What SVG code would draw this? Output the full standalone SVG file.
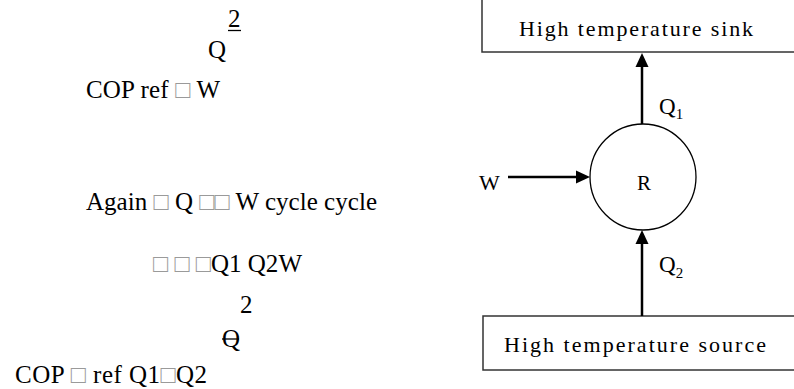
<svg xmlns="http://www.w3.org/2000/svg" width="794" height="389" viewBox="0 0 794 389">
<style>
.t{font-family:"Liberation Serif","Times New Roman",serif;fill:#000}
.eq{font-size:25px}
.sq{fill:#9a9a9a}
.box{fill:#fff;stroke:#333;stroke-width:1.5}
.lbl{font-size:22px}
.conn{stroke:#000;stroke-width:2.5;fill:none}
</style>
<rect width="794" height="389" fill="#fff"/>

<g id="equations">
<text class="t eq" x="228" y="27">2</text>
<line x1="228" y1="30.5" x2="241" y2="30.5" stroke="#000" stroke-width="1.3"/>
<text class="t eq" x="208" y="58">Q</text>
<text class="t eq" x="86" y="98" textLength="134" lengthAdjust="spacing">COP ref <tspan class="sq">□</tspan> W</text>
<text class="t eq" x="86" y="210" textLength="291" lengthAdjust="spacing">Again <tspan class="sq">□</tspan> Q <tspan class="sq">□□</tspan> W cycle cycle</text>
<text class="t eq" x="153" y="272" textLength="149" lengthAdjust="spacing"><tspan class="sq">□</tspan> <tspan class="sq">□</tspan> <tspan class="sq">□</tspan>Q1 Q2W</text>
<text class="t eq" x="240" y="313">2</text>
<text class="t eq" x="222" y="347">Q</text>
<line x1="222" y1="339" x2="239" y2="339" stroke="#000" stroke-width="1.3"/>
<text class="t eq" x="15" y="383" textLength="192" lengthAdjust="spacing">COP <tspan class="sq">□</tspan>  ref Q1<tspan class="sq">□</tspan>Q2</text>
</g>

<g id="sink">
<rect class="box" x="482" y="-5" width="320" height="57"/>
<text class="t lbl" x="519" y="36" textLength="234" lengthAdjust="spacing">High temperature sink</text>
</g>

<g id="source">
<rect class="box" x="483" y="316" width="320" height="54"/>
<text class="t lbl" x="504" y="352" textLength="262" lengthAdjust="spacing">High temperature source</text>
</g>

<g id="R">
<circle cx="643" cy="177" r="53" fill="none" stroke="#000" stroke-width="1.3"/>
<text class="t" x="644" y="190" font-size="21" text-anchor="middle">R</text>
</g>

<g id="connectors">
<line class="conn" x1="642" y1="124" x2="642" y2="67"/>
<path d="M642,53 L635.5,67 L648.5,67 Z" fill="#000"/>
<line class="conn" x1="508" y1="177" x2="577" y2="177"/>
<path d="M590,177 L576,170.5 L576,183.5 Z" fill="#000"/>
<line class="conn" x1="642" y1="316" x2="642" y2="244"/>
<path d="M642,230 L635.5,244 L648.5,244 Z" fill="#000"/>
</g>

<g id="labels">
<text class="t" x="479" y="190" font-size="22">W</text>
<text class="t" x="659" y="114" font-size="23">Q<tspan font-size="15" dy="5">1</tspan></text>
<text class="t" x="659" y="272" font-size="23">Q<tspan font-size="15" dy="6">2</tspan></text>
</g>
</svg>
